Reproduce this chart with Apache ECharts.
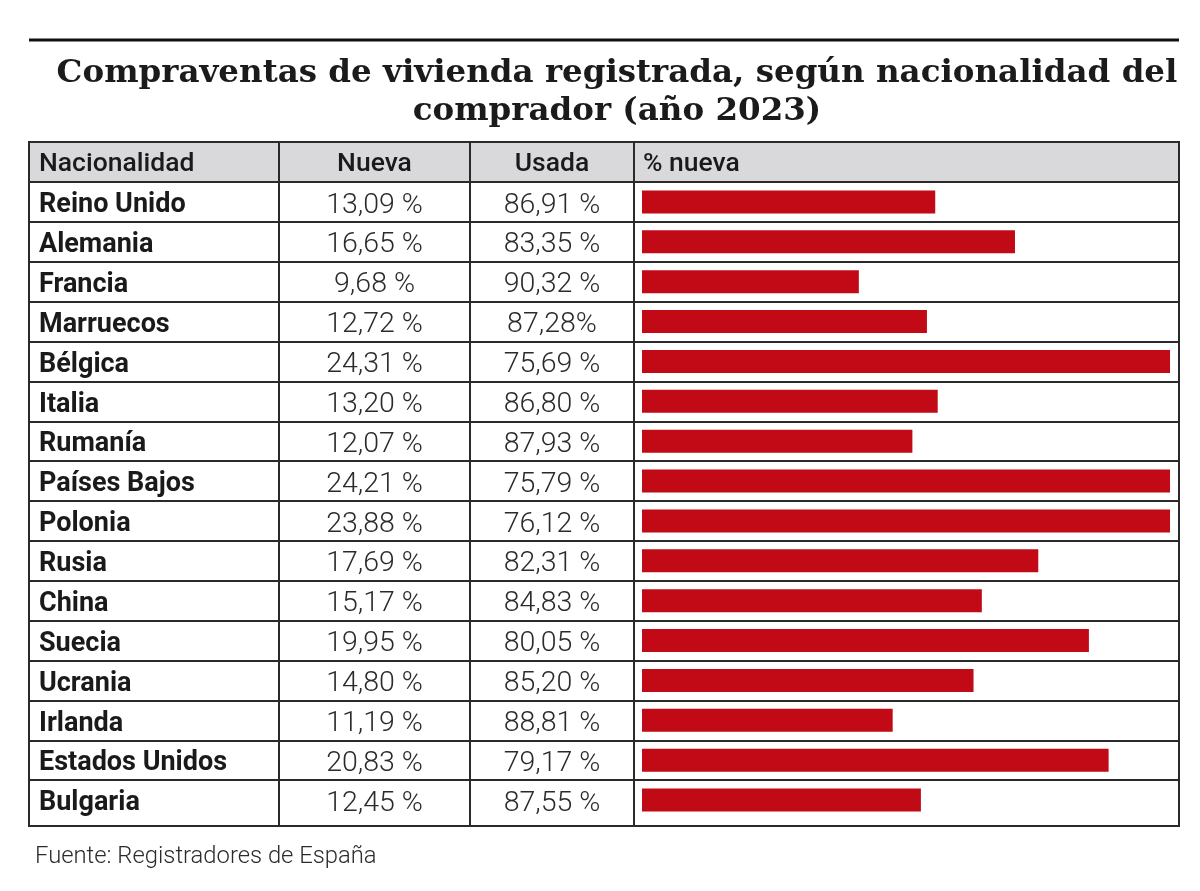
<!DOCTYPE html>
<html>
<head>
<meta charset="utf-8">
<script src="https://cdn.jsdelivr.net/npm/echarts@6/dist/echarts.min.js"></script>
<style>
  html, body { margin: 0; padding: 0; background: #ffffff; }
  #chart { width: 1200px; height: 891px; }
</style>
</head>
<body>
<div id="chart"></div>
<script>
const titleText = 'Compraventas de vivienda registrada, según nacionalidad del\ncomprador (año 2023)';
const headers = ['Nacionalidad', 'Nueva', 'Usada', '% nueva'];
const sourceText = 'Fuente: Registradores de España';

const countries = ['Reino Unido', 'Alemania', 'Francia', 'Marruecos', 'Bélgica', 'Italia', 'Rumanía',
  'Países Bajos', 'Polonia', 'Rusia', 'China', 'Suecia', 'Ucrania', 'Irlanda', 'Estados Unidos', 'Bulgaria'];
const nueva = [13.09, 16.65, 9.68, 12.72, 24.31, 13.20, 12.07, 24.21, 23.88, 17.69, 15.17, 19.95, 14.80, 11.19, 20.83, 12.45];
const nuevaLabels = ['13,09 %', '16,65 %', '9,68 %', '12,72 %', '24,31 %', '13,20 %', '12,07 %', '24,21 %',
  '23,88 %', '17,69 %', '15,17 %', '19,95 %', '14,80 %', '11,19 %', '20,83 %', '12,45 %'];
const usadaLabels = ['86,91 %', '83,35 %', '90,32 %', '87,28%', '75,69 %', '86,80 %', '87,93 %', '75,79 %',
  '76,12 %', '82,31 %', '84,83 %', '80,05 %', '85,20 %', '88,81 %', '79,17 %', '87,55 %'];

// layout
const T = { left: 29, right: 1179, top: 142, headBottom: 182, rowsBottom: 820, bottom: 826 };
const colX = [279, 470, 634];
const lineColor = '#2a2a2a';
const sans = 'Roboto, "Noto Sans", sans-serif';

const chart = echarts.init(document.getElementById('chart'), null, { renderer: 'canvas' });

const valueLabelStyle = {
  show: true, inside: true, interval: 0, align: 'center', verticalAlign: 'middle',
  formatter: v => '{v|' + v + '}',
  rich: { v: { fontFamily: sans, fontWeight: 300, fontSize: 28.5, color: '#2b2b2b', padding: [7, 0, 0, 0] } }
};

chart.setOption({
  backgroundColor: '#ffffff',
  animation: false,
  title: {
    text: titleText,
    left: 612, top: 50, textAlign: 'center',
    textStyle: { fontFamily: '"DejaVu Serif", serif', fontWeight: 'bold', fontSize: 32.5, lineHeight: 38, color: '#1b1b1b' }
  },
  grid: [
    { left: T.left, right: 1200 - T.right, top: T.headBottom, height: T.rowsBottom - T.headBottom, containLabel: false },
    { left: 642, right: 30, top: T.headBottom, height: T.rowsBottom - T.headBottom, containLabel: false }
  ],
  xAxis: [
    { gridIndex: 0, type: 'value', show: false, min: 0, max: 1 },
    { gridIndex: 1, type: 'value', show: false, min: 0, max: 23.57 }
  ],
  yAxis: [
    {
      gridIndex: 0, type: 'category', position: 'left', data: countries, inverse: true,
      axisLine: { show: false }, axisTick: { show: false },
      axisLabel: { inside: true, interval: 0, margin: 10, align: 'left', verticalAlign: 'middle',
        formatter: v => '{n|' + v + '}',
        rich: { n: { fontFamily: sans, fontWeight: 'bold', fontSize: 27, color: '#1a1a1a', padding: [7, 0, 0, 0] } } },
      splitLine: { show: true, showMinLine: true, showMaxLine: false, interval: 0,
        lineStyle: { color: lineColor, width: 2 } }
    },
    {
      gridIndex: 0, type: 'category', position: 'left', offset: 0, data: nuevaLabels, inverse: true,
      axisLine: { show: false }, axisTick: { show: false }, splitLine: { show: false },
      axisLabel: Object.assign({ margin: (colX[0] + colX[1]) / 2 - T.left }, valueLabelStyle)
    },
    {
      gridIndex: 0, type: 'category', position: 'left', offset: 0, data: usadaLabels, inverse: true,
      axisLine: { show: false }, axisTick: { show: false }, splitLine: { show: false },
      axisLabel: Object.assign({ margin: (colX[1] + colX[2]) / 2 - T.left }, valueLabelStyle)
    },
    {
      gridIndex: 1, type: 'category', position: 'left', data: countries, inverse: true, show: false
    }
  ],
  series: [
    {
      type: 'bar', xAxisIndex: 1, yAxisIndex: 3, data: nueva,
      barWidth: 23, clip: true, silent: true,
      itemStyle: { color: '#c10a15' }
    }
  ],
  graphic: [
    // top rule
    { type: 'line', z: 10, shape: { x1: T.left, y1: 40, x2: T.right, y2: 40 }, style: { stroke: '#111111', lineWidth: 3 } },
    // header background
    { type: 'rect', z: -5, shape: { x: T.left, y: T.top, width: T.right - T.left, height: T.headBottom - T.top },
      style: { fill: '#d9d9dc' } },
    // frame
    { type: 'rect', z: 10, shape: { x: T.left, y: T.top, width: T.right - T.left, height: T.bottom - T.top },
      style: { fill: 'none', stroke: lineColor, lineWidth: 2 } },
    // column lines
    ...colX.map(x => ({ type: 'line', z: 10, shape: { x1: x, y1: T.top, x2: x, y2: T.bottom },
      style: { stroke: lineColor, lineWidth: 2 } })),
    // headers
    { type: 'text', z: 10, x: 39, y: 164, style: { text: headers[0], fontFamily: sans, fontWeight: 500, fontSize: 26.5, fill: '#1a1a1a', textVerticalAlign: 'middle', textAlign: 'left' } },
    { type: 'text', z: 10, x: (colX[0] + colX[1]) / 2, y: 164, style: { text: headers[1], fontFamily: sans, fontWeight: 500, fontSize: 26.5, fill: '#1a1a1a', textVerticalAlign: 'middle', textAlign: 'center' } },
    { type: 'text', z: 10, x: (colX[1] + colX[2]) / 2, y: 164, style: { text: headers[2], fontFamily: sans, fontWeight: 500, fontSize: 26.5, fill: '#1a1a1a', textVerticalAlign: 'middle', textAlign: 'center' } },
    { type: 'text', z: 10, x: 643, y: 164, style: { text: headers[3], fontFamily: sans, fontWeight: 500, fontSize: 26.5, fill: '#1a1a1a', textVerticalAlign: 'middle', textAlign: 'left' } },
    // source
    { type: 'text', z: 10, x: 35, y: 857, style: { text: sourceText, fontFamily: sans, fontWeight: 300, fontSize: 23.8, fill: '#2b2b2b', textVerticalAlign: 'middle', textAlign: 'left' } }
  ]
});
</script>
</body>
</html>
